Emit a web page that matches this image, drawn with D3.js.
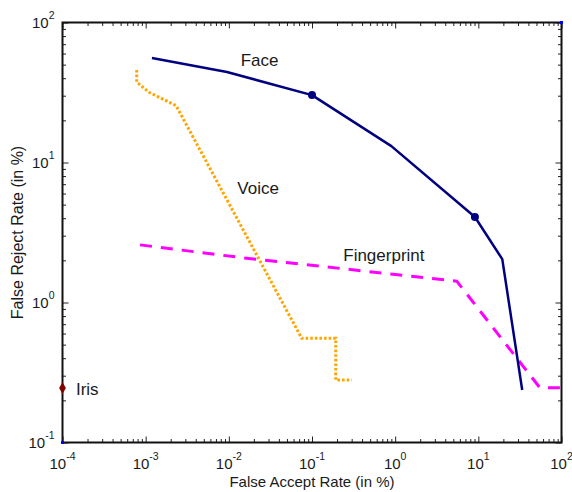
<!DOCTYPE html>
<html>
<head>
<meta charset="utf-8">
<script src="https://cdnjs.cloudflare.com/ajax/libs/d3/7.8.5/d3.min.js"></script>
<style>
  html, body { margin: 0; padding: 0; background: #fff; }
  svg { display: block; }
  text { font-family: "Liberation Sans", Arial, Helvetica, sans-serif; fill: #1a1a1a; }
</style>
</head>
<body>
<svg id="chart" width="572" height="492"></svg>
<script>
// ---- data (x = False Accept Rate %, y = False Reject Rate %) ----
const faceX = [0.00119, 0.0095, 0.1, 0.9, 9.1, 19.4, 33.7];
const faceY = [55.8, 44.3, 30.3, 13.1, 4.08, 2.04, 0.237];
const faceMarkX = [0.1, 9.1];
const faceMarkY = [30.3, 4.08];

const voiceX = [0.00078, 0.00078, 0.0011, 0.00232, 0.0752, 0.193, 0.193, 0.30];
const voiceY = [45.8, 37.6, 31.7, 25.5, 0.555, 0.555, 0.279, 0.279];

const fingerX = [0.000855, 0.0143, 5.5, 55, 100];
const fingerY = [2.58, 2.09, 1.42, 0.246, 0.246];

const irisX = [0.0001];
const irisY = [0.245];

const cornerX = [0.0001, 100];
const cornerY = [0.1, 100];

const xDecades = [-4, -3, -2, -1, 0, 1, 2];
const yDecades = [-1, 0, 1, 2];

const labels = ["Face", "Voice", "Fingerprint", "Iris"];
const labelX = [0.0139, 0.01265, 0.2376, 0.000145];
const labelY = [54.8, 6.62, 2.21, 0.245];

// ---- layout ----
const L = 62.5, R = 561.5, T = 22.5, B = 442.5;
const svg = d3.select("#chart");
const x = d3.scaleLog().domain([1e-4, 1e2]).range([L, R]);
const y = d3.scaleLog().domain([1e-1, 1e2]).range([B, T]);

// tick values
const xMajor = xDecades.map(d => Math.pow(10, d));
const yMajor = yDecades.map(d => Math.pow(10, d));
const minorOf = decs => {
  const out = [];
  for (let i = 0; i < decs.length - 1; i++)
    for (let k = 2; k <= 9; k++) out.push(k * Math.pow(10, decs[i]));
  return out;
};
const xMinor = minorOf(xDecades);
const yMinor = minorOf(yDecades);

function addAxis(gen, tf, vals, len) {
  const g = svg.append("g").attr("transform", tf)
    .call(gen.tickValues(vals).tickSize(-len).tickFormat(""));
  g.select(".domain").remove();
  g.selectAll(".tick line").attr("stroke", "#222").attr("stroke-width", 1);
}
addAxis(d3.axisBottom(x), `translate(0,${B})`, xMinor, 3.5);
addAxis(d3.axisBottom(x), `translate(0,${B})`, xMajor, 6);
addAxis(d3.axisTop(x), `translate(0,${T})`, xMinor, 3.5);
addAxis(d3.axisTop(x), `translate(0,${T})`, xMajor, 6);
addAxis(d3.axisLeft(y), `translate(${L},0)`, yMinor, 3.5);
addAxis(d3.axisLeft(y), `translate(${L},0)`, yMajor, 6);
addAxis(d3.axisRight(y), `translate(${R},0)`, yMinor, 3.5);
addAxis(d3.axisRight(y), `translate(${R},0)`, yMajor, 6);

// box
svg.append("rect").attr("x", L).attr("y", T).attr("width", R - L).attr("height", B - T)
  .attr("fill", "none").attr("stroke", "#111").attr("stroke-width", 2);

// tick labels
xDecades.forEach(d => {
  const t = svg.append("text").attr("x", x(Math.pow(10, d))).attr("y", B + 26)
    .attr("text-anchor", "middle").attr("font-size", 15);
  t.append("tspan").text("10");
  t.append("tspan").attr("font-size", 10.5).attr("dy", -9).text(d);
});
yDecades.forEach(d => {
  const t = svg.append("text").attr("x", L - 8).attr("y", y(Math.pow(10, d)) + 5.5)
    .attr("text-anchor", "end").attr("font-size", 15);
  t.append("tspan").text("10");
  t.append("tspan").attr("font-size", 10.5).attr("dy", -9).text(d);
});

// axis titles
svg.append("text").attr("x", (L + R) / 2).attr("y", 487).attr("text-anchor", "middle")
  .attr("font-size", 15).text("False Accept Rate (in %)");
svg.append("text").attr("transform", `translate(22.5,${(T + B) / 2}) rotate(-90)`)
  .attr("text-anchor", "middle").attr("font-size", 16).text("False Reject Rate (in %)");

// lines
const line = (xs, ys) => d3.line().x((d, i) => x(xs[i])).y((d, i) => y(ys[i]))(xs);

svg.append("path").attr("d", line(fingerX, fingerY)).attr("fill", "none")
  .attr("stroke", "#ff00ff").attr("stroke-width", 3).attr("stroke-dasharray", "12,9");
svg.append("path").attr("d", line(voiceX, voiceY)).attr("fill", "none")
  .attr("stroke", "#ffa500").attr("stroke-width", 3).attr("stroke-dasharray", "2.6,2");
svg.append("path").attr("d", line(faceX, faceY)).attr("fill", "none")
  .attr("stroke", "#000080").attr("stroke-width", 2.5).attr("stroke-linejoin", "round");
svg.selectAll(".facemark").data(faceMarkX).enter().append("circle")
  .attr("cx", d => x(d)).attr("cy", (d, i) => y(faceMarkY[i])).attr("r", 4)
  .attr("fill", "#000080");

// iris diamond
svg.selectAll(".iris").data(irisX).enter().append("path")
  .attr("d", d3.symbol(d3.symbolDiamond, 40))
  .attr("transform", (d, i) => `translate(${x(d)},${y(irisY[i])})`)
  .attr("fill", "#800000");

// corner blue points
svg.selectAll(".corner").data(cornerX).enter().append("rect")
  .attr("x", d => x(d) - 1.5).attr("y", (d, i) => y(cornerY[i]) - 1.5)
  .attr("width", 3).attr("height", 3).attr("fill", "#0000ff");

// annotations
labels.forEach((s, i) => {
  svg.append("text").attr("x", x(labelX[i])).attr("y", y(labelY[i]) + 6.5)
    .attr("font-size", 17).text(s);
});
</script>
</body>
</html>
